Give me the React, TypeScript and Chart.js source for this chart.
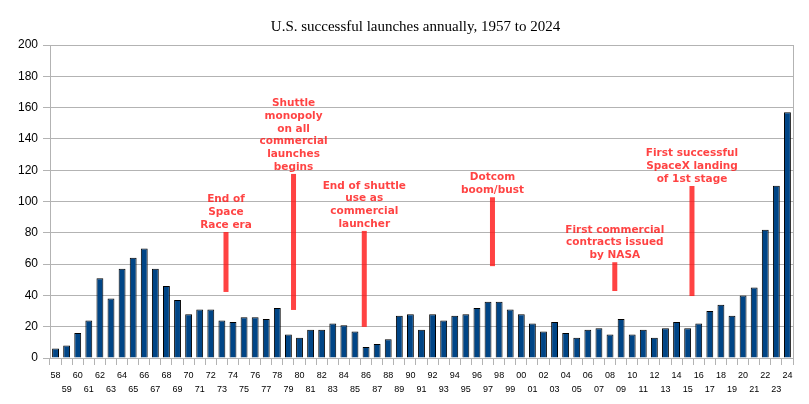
import { useEffect, useRef } from 'react';
import { Chart, registerables } from 'chart.js';

Chart.register(...registerables);

const titleText = 'U.S. successful launches annually, 1957 to 2024';

const years = [
  '58', '59', '60', '61', '62', '63', '64', '65', '66', '67', '68', '69',
  '70', '71', '72', '73', '74', '75', '76', '77', '78', '79',
  '80', '81', '82', '83', '84', '85', '86', '87', '88', '89',
  '90', '91', '92', '93', '94', '95', '96', '97', '98', '99',
  '00', '01', '02', '03', '04', '05', '06', '07', '08', '09',
  '10', '11', '12', '13', '14', '15', '16', '17', '18', '19',
  '20', '21', '22', '23', '24',
];

const launches = [
  6, 8, 16, 24, 51, 38, 57, 64, 70, 57, 46, 37,
  28, 31, 31, 24, 23, 26, 26, 25, 32, 15,
  13, 18, 18, 22, 21, 17, 7, 9, 12, 27,
  28, 18, 28, 24, 27, 28, 32, 36, 36, 31,
  28, 22, 17, 23, 16, 13, 18, 19, 15, 25,
  15, 18, 13, 19, 23, 19, 22, 30, 34, 27,
  40, 45, 82, 110, 157,
];

const yMin = 0;
const yMax = 200;
const yGridStep = 10;
const yLabelStep = 20;

// Annotations: text lines, position on the category axis (index), and line extent in data units
const noteTexts = [
  ['End of', 'Space', 'Race era'],
  ['Shuttle', 'monopoly', 'on all', 'commercial', 'launches', 'begins'],
  ['End of shuttle', 'use as', 'commercial', 'launcher'],
  ['Dotcom', 'boom/bust'],
  ['First commercial', 'contracts issued', 'by NASA'],
  ['First successful', 'SpaceX landing', 'of 1st stage'],
];
const noteIndex = [15.37, 21.46, 27.84, 39.4, 50.43, 57.39];
const noteTop = [80.5, 117.6, 81.2, 102.7, 61.2, 109.9];
const noteBottom = [42.2, 30.7, 19.9, 58.7, 42.8, 39.6];

const GRID = '#b3b3b3';
const RED = 'rgba(255, 20, 20, 0.8)';

const overlayPlugin = {
  id: 'overlay',
  afterDatasetsDraw(chart: any) {
    const { ctx, chartArea, scales } = chart;
    ctx.save();
    // right frame line
    ctx.strokeStyle = GRID;
    ctx.lineWidth = 1;
    ctx.beginPath();
    const rx = Math.round(chartArea.right) + 0.5;
    ctx.moveTo(rx, chartArea.top);
    ctx.lineTo(rx, chartArea.bottom);
    ctx.stroke();

    // title
    ctx.fillStyle = '#000';
    ctx.font = '15px "Liberation Serif", "Times New Roman", serif';
    ctx.textAlign = 'center';
    ctx.textBaseline = 'alphabetic';
    ctx.fillText(titleText, (chartArea.left + chartArea.right) / 2 - 6, 31);

    // annotations
    for (let i = 0; i < noteTexts.length; i++) {
      const x = scales.x.getPixelForValue(noteIndex[i]);
      const yT = scales.y.getPixelForValue(noteTop[i]);
      const yB = scales.y.getPixelForValue(noteBottom[i]);
      ctx.fillStyle = RED;
      ctx.fillRect(x - 2.5, yT, 5, yB - yT);
      ctx.font = 'bold 10.5px "DejaVu Sans", sans-serif';
      ctx.textAlign = 'center';
      ctx.textBaseline = 'alphabetic';
      const lines = noteTexts[i];
      for (let j = 0; j < lines.length; j++) {
        const y = yT - 4 - (lines.length - 1 - j) * 12.8;
        ctx.fillText(lines[j], x, y);
      }
    }
    ctx.restore();
  },
};

export default function App() {
  const canvasRef = useRef<HTMLCanvasElement | null>(null);

  useEffect(() => {
    const canvas = canvasRef.current;
    if (!canvas) return;
    const chart = new Chart(canvas, {
      type: 'bar',
      data: {
        labels: years,
        datasets: [
          {
            data: launches,
            backgroundColor: '#004586',
            borderColor: '#000000',
            borderWidth: 1,
            categoryPercentage: 1,
            barPercentage: 0.62,
          },
        ],
      },
      options: {
        animation: false,
        responsive: false,
        maintainAspectRatio: false,
        layout: { padding: { top: 45, right: 16, left: 0, bottom: 0 } },
        plugins: {
          legend: { display: false },
          title: { display: false },
          tooltip: { enabled: false },
        },
        scales: {
          x: {
            offset: true,
            grid: {
              offset: true,
              drawOnChartArea: false,
              drawTicks: true,
              tickLength: 7,
              color: GRID,
            },
            border: { color: GRID },
            ticks: {
              autoSkip: false,
              maxRotation: 0,
              minRotation: 0,
              padding: 4,
              color: '#000',
              font: { family: '"Liberation Sans", Arial, sans-serif', size: 9, lineHeight: 14 / 9 },
              callback: function (this: any, _v: any, index: number) {
                const lab = years[index];
                return index % 2 === 0 ? [lab, ''] : ['', lab];
              },
            },
            afterFit: (scale: any) => {
              scale.height = 46;
            },
          },
          y: {
            min: yMin,
            max: yMax,
            grid: { color: GRID, tickLength: 7 },
            border: { color: GRID },
            ticks: {
              stepSize: yGridStep,
              padding: 5,
              color: '#000',
              font: { family: '"Liberation Sans", Arial, sans-serif', size: 12 },
              callback: (v: any) => (Number(v) % yLabelStep === 0 ? String(v) : ''),
            },
            afterFit: (scale: any) => {
              scale.width = 50;
            },
          },
        },
      },
      plugins: [overlayPlugin],
    });
    return () => chart.destroy();
  }, []);

  return (
    <div style={{ position: 'fixed', left: 0, top: 0, width: 809, height: 404, background: '#fff' }}>
      <canvas ref={canvasRef} width={809} height={404} style={{ width: 809, height: 404, display: 'block' }} />
    </div>
  );
}
